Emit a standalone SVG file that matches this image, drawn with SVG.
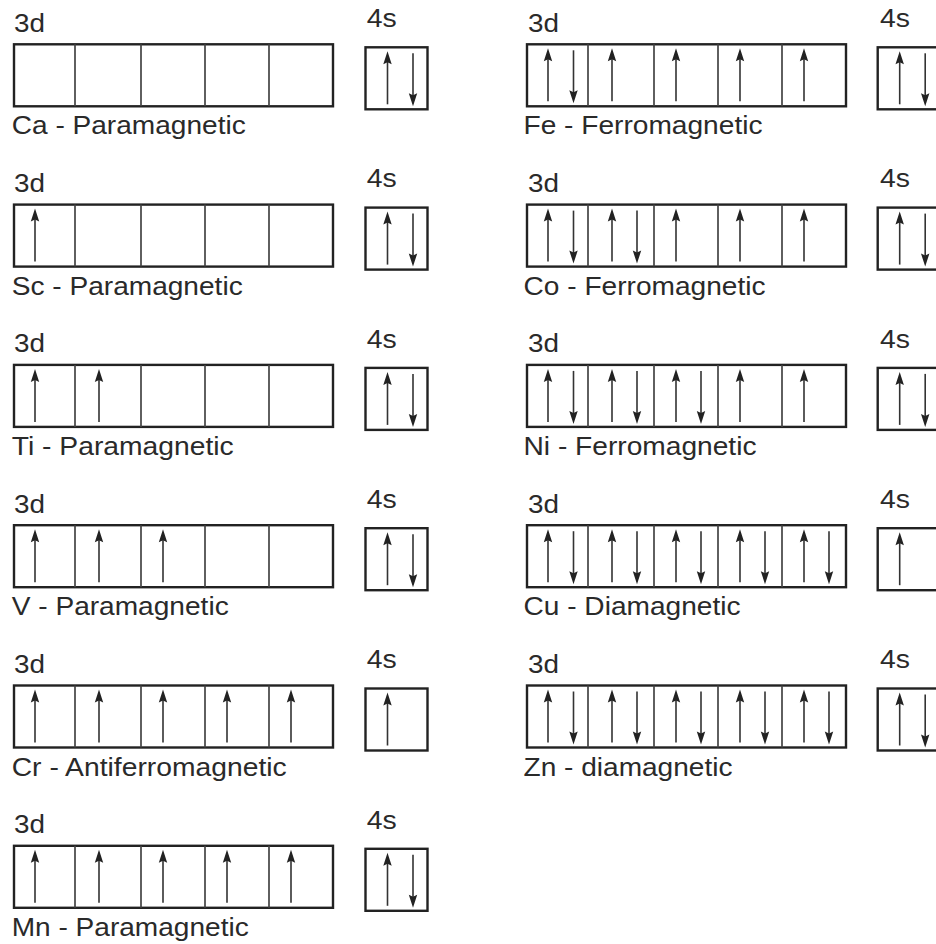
<svg xmlns="http://www.w3.org/2000/svg" width="936" height="944" viewBox="0 0 936 944">
<style>
.frame{fill:none;stroke:#222;stroke-width:2.4}
.div{stroke:#444;stroke-width:1.7}
.ar{stroke:#333;stroke-width:1.6;fill:none}
.hd{fill:#222;stroke:none}
text{font-family:"Liberation Sans",Arial,sans-serif;font-size:25.5px;fill:#2a2a2a}
</style>
<defs>
<g id="f3d">
<rect class="frame" x="0" y="0" width="319" height="62"/>
<line class="div" x1="61" y1="0" x2="61" y2="62"/>
<line class="div" x1="127" y1="0" x2="127" y2="62"/>
<line class="div" x1="191" y1="0" x2="191" y2="62"/>
<line class="div" x1="255" y1="0" x2="255" y2="62"/>
</g>
<rect id="f4s" class="frame" x="0" y="0" width="62" height="62"/>
<g id="up">
<line class="ar" x1="0" y1="57" x2="0" y2="14"/>
<path class="hd" d="M0,4 L-4.2,17 L0,15 L4.2,17 Z"/>
</g>
<g id="dn">
<line class="ar" x1="0" y1="6" x2="0" y2="49"/>
<path class="hd" d="M0,59 L-4.2,46 L0,48 L4.2,46 Z"/>
</g>
</defs>

<g id="ca" transform="translate(14,44.3)">
<text x="0" y="-12.6" textLength="31" lengthAdjust="spacingAndGlyphs">3d</text>
<text x="352.7" y="-17.3" textLength="30" lengthAdjust="spacingAndGlyphs">4s</text>
<use href="#f3d"/>
<g transform="translate(351.5,3)"><use href="#f4s"/><use href="#up" x="22"/><use href="#dn" x="47.5"/></g>
<text x="-2.3" y="90" textLength="234" lengthAdjust="spacingAndGlyphs">Ca - Paramagnetic</text>
</g>

<g id="sc" transform="translate(14,204.6)">
<text x="0" y="-12.6" textLength="31" lengthAdjust="spacingAndGlyphs">3d</text>
<text x="352.7" y="-17.3" textLength="30" lengthAdjust="spacingAndGlyphs">4s</text>
<use href="#f3d"/>
<use href="#up" x="21"/>
<g transform="translate(351.5,3)"><use href="#f4s"/><use href="#up" x="22"/><use href="#dn" x="47.5"/></g>
<text x="-2.3" y="90" textLength="231" lengthAdjust="spacingAndGlyphs">Sc - Paramagnetic</text>
</g>

<g id="ti" transform="translate(14,364.9)">
<text x="0" y="-12.6" textLength="31" lengthAdjust="spacingAndGlyphs">3d</text>
<text x="352.7" y="-17.3" textLength="30" lengthAdjust="spacingAndGlyphs">4s</text>
<use href="#f3d"/>
<use href="#up" x="21"/><use href="#up" x="85"/>
<g transform="translate(351.5,3)"><use href="#f4s"/><use href="#up" x="22"/><use href="#dn" x="47.5"/></g>
<text x="-2.3" y="90" textLength="222" lengthAdjust="spacingAndGlyphs">Ti - Paramagnetic</text>
</g>

<g id="v" transform="translate(14,525.2)">
<text x="0" y="-12.6" textLength="31" lengthAdjust="spacingAndGlyphs">3d</text>
<text x="352.7" y="-17.3" textLength="30" lengthAdjust="spacingAndGlyphs">4s</text>
<use href="#f3d"/>
<use href="#up" x="21"/><use href="#up" x="85"/><use href="#up" x="149"/>
<g transform="translate(351.5,3)"><use href="#f4s"/><use href="#up" x="22"/><use href="#dn" x="47.5"/></g>
<text x="-2.3" y="90" textLength="217" lengthAdjust="spacingAndGlyphs">V - Paramagnetic</text>
</g>

<g id="cr" transform="translate(14,685.5)">
<text x="0" y="-12.6" textLength="31" lengthAdjust="spacingAndGlyphs">3d</text>
<text x="352.7" y="-17.3" textLength="30" lengthAdjust="spacingAndGlyphs">4s</text>
<use href="#f3d"/>
<use href="#up" x="21"/><use href="#up" x="85"/><use href="#up" x="149"/><use href="#up" x="213"/><use href="#up" x="277"/>
<g transform="translate(351.5,3)"><use href="#f4s"/><use href="#up" x="22"/></g>
<text x="-2.3" y="90" textLength="275" lengthAdjust="spacingAndGlyphs">Cr - Antiferromagnetic</text>
</g>

<g id="mn" transform="translate(14,845.8)">
<text x="0" y="-12.6" textLength="31" lengthAdjust="spacingAndGlyphs">3d</text>
<text x="352.7" y="-17.3" textLength="30" lengthAdjust="spacingAndGlyphs">4s</text>
<use href="#f3d"/>
<use href="#up" x="21"/><use href="#up" x="85"/><use href="#up" x="149"/><use href="#up" x="213"/><use href="#up" x="277"/>
<g transform="translate(351.5,3)"><use href="#f4s"/><use href="#up" x="22"/><use href="#dn" x="47.5"/></g>
<text x="-2.3" y="90" textLength="237" lengthAdjust="spacingAndGlyphs">Mn - Paramagnetic</text>
</g>

<g id="fe" transform="translate(527,44.3)">
<text x="1" y="-12.6" textLength="31" lengthAdjust="spacingAndGlyphs">3d</text>
<text x="353" y="-17.3" textLength="30" lengthAdjust="spacingAndGlyphs">4s</text>
<use href="#f3d"/>
<use href="#up" x="21"/><use href="#dn" x="46.5"/><use href="#up" x="85"/><use href="#up" x="149"/><use href="#up" x="213"/><use href="#up" x="277"/>
<g transform="translate(350.7,3)"><use href="#f4s"/><use href="#up" x="22"/><use href="#dn" x="47.5"/></g>
<text x="-3.5" y="90" textLength="239" lengthAdjust="spacingAndGlyphs">Fe - Ferromagnetic</text>
</g>

<g id="co" transform="translate(527,204.6)">
<text x="1" y="-12.6" textLength="31" lengthAdjust="spacingAndGlyphs">3d</text>
<text x="353" y="-17.3" textLength="30" lengthAdjust="spacingAndGlyphs">4s</text>
<use href="#f3d"/>
<use href="#up" x="21"/><use href="#dn" x="46.5"/><use href="#up" x="85"/><use href="#dn" x="110"/><use href="#up" x="149"/><use href="#up" x="213"/><use href="#up" x="277"/>
<g transform="translate(350.7,3)"><use href="#f4s"/><use href="#up" x="22"/><use href="#dn" x="47.5"/></g>
<text x="-3.5" y="90" textLength="242" lengthAdjust="spacingAndGlyphs">Co - Ferromagnetic</text>
</g>

<g id="ni" transform="translate(527,364.9)">
<text x="1" y="-12.6" textLength="31" lengthAdjust="spacingAndGlyphs">3d</text>
<text x="353" y="-17.3" textLength="30" lengthAdjust="spacingAndGlyphs">4s</text>
<use href="#f3d"/>
<use href="#up" x="21"/><use href="#dn" x="46.5"/><use href="#up" x="85"/><use href="#dn" x="110"/><use href="#up" x="149"/><use href="#dn" x="174"/><use href="#up" x="213"/><use href="#up" x="277"/>
<g transform="translate(350.7,3)"><use href="#f4s"/><use href="#up" x="22"/><use href="#dn" x="47.5"/></g>
<text x="-3.5" y="90" textLength="233" lengthAdjust="spacingAndGlyphs">Ni - Ferromagnetic</text>
</g>

<g id="cu" transform="translate(527,525.2)">
<text x="1" y="-12.6" textLength="31" lengthAdjust="spacingAndGlyphs">3d</text>
<text x="353" y="-17.3" textLength="30" lengthAdjust="spacingAndGlyphs">4s</text>
<use href="#f3d"/>
<use href="#up" x="21"/><use href="#dn" x="46.5"/><use href="#up" x="85"/><use href="#dn" x="110"/><use href="#up" x="149"/><use href="#dn" x="174"/><use href="#up" x="213"/><use href="#dn" x="238"/><use href="#up" x="277"/><use href="#dn" x="302"/>
<g transform="translate(350.7,3)"><use href="#f4s"/><use href="#up" x="22"/></g>
<text x="-3.5" y="90" textLength="217" lengthAdjust="spacingAndGlyphs">Cu - Diamagnetic</text>
</g>

<g id="zn" transform="translate(527,685.5)">
<text x="1" y="-12.6" textLength="31" lengthAdjust="spacingAndGlyphs">3d</text>
<text x="353" y="-17.3" textLength="30" lengthAdjust="spacingAndGlyphs">4s</text>
<use href="#f3d"/>
<use href="#up" x="21"/><use href="#dn" x="46.5"/><use href="#up" x="85"/><use href="#dn" x="110"/><use href="#up" x="149"/><use href="#dn" x="174"/><use href="#up" x="213"/><use href="#dn" x="238"/><use href="#up" x="277"/><use href="#dn" x="302"/>
<g transform="translate(350.7,3)"><use href="#f4s"/><use href="#up" x="22"/><use href="#dn" x="47.5"/></g>
<text x="-3.5" y="90" textLength="209" lengthAdjust="spacingAndGlyphs">Zn - diamagnetic</text>
</g>

<g id="connectors"></g>
</svg>
